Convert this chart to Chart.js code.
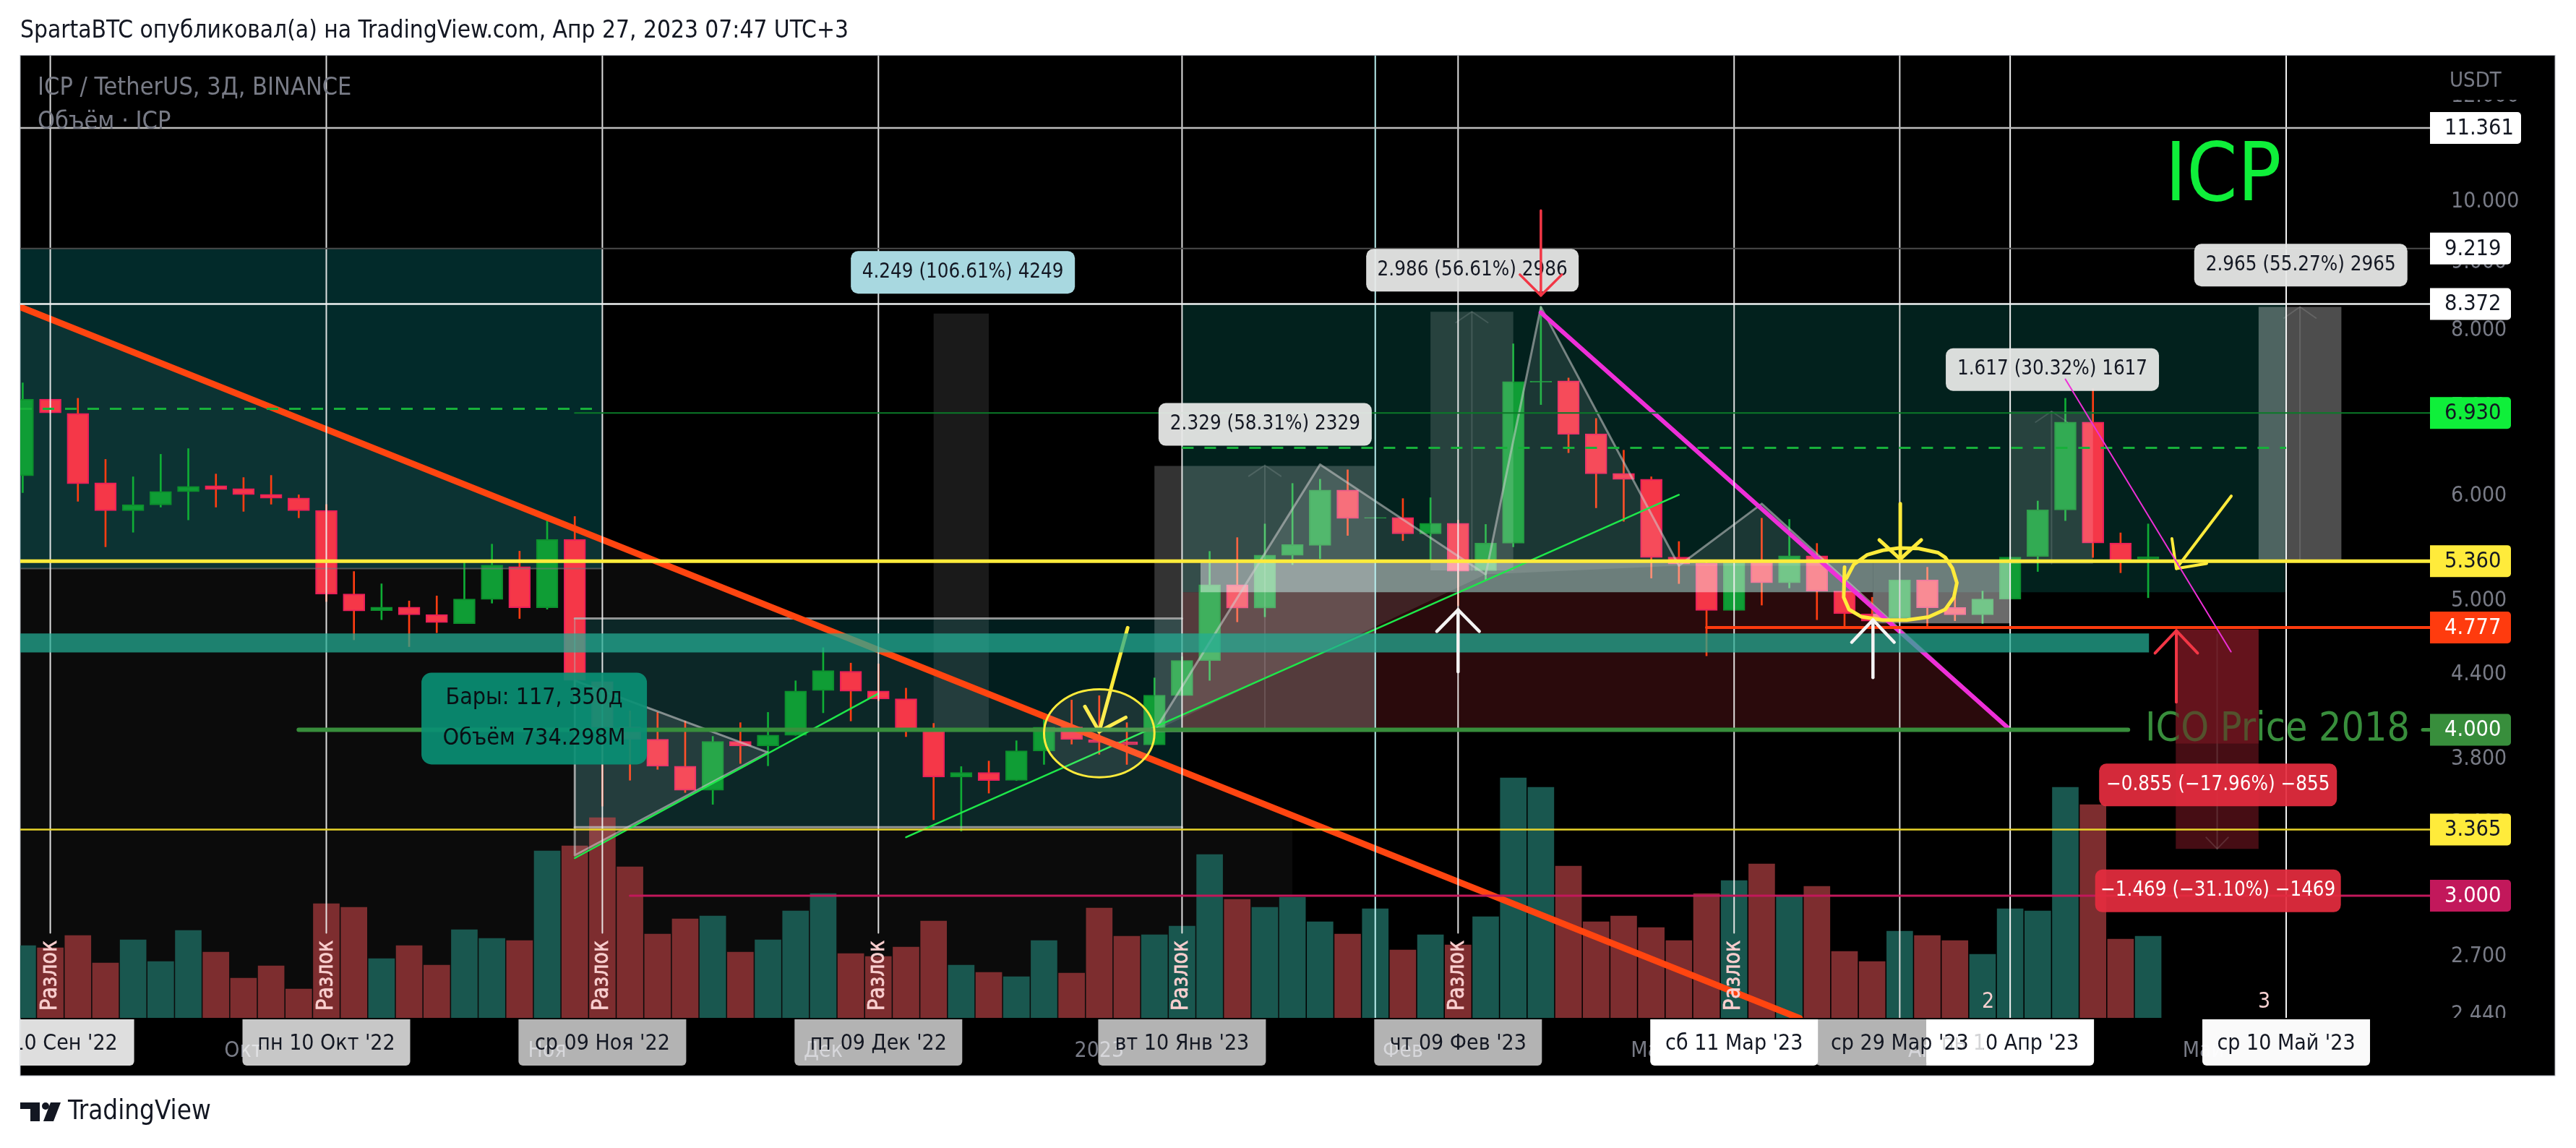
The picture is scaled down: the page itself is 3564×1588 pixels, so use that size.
<!DOCTYPE html>
<html><head><meta charset="utf-8">
<style>html,body{margin:0;padding:0;background:#fff;overflow:hidden}canvas{display:block}</style>
<script src="https://cdn.jsdelivr.net/npm/chart.js@4/dist/chart.umd.min.js"></script>
</head><body><canvas id="c" width="3564" height="1588"></canvas>
<script>
const opens=[6.214,7.098,6.925,6.140,5.850,5.908,6.045,6.110,6.079,6.018,5.980,5.853,5.063,4.918,4.949,4.886,4.809,5.016,5.309,4.944,5.566,4.349,4.020,3.935,3.756,3.602,3.920,3.889,3.962,4.282,4.428,4.279,4.221,4.001,3.685,3.715,3.665,3.855,4.020,3.932,3.918,3.897,4.245,4.509,5.145,4.941,5.414,5.508,6.064,5.774,5.781,5.619,5.724,5.271,5.529,7.311,7.327,6.684,6.240,6.178,5.397,5.338,4.921,5.350,5.162,5.410,5.088,4.892,4.858,5.189,4.946,4.884,5.019,5.404,5.857,6.822,5.531,5.379];
const highs=[7.302,7.098,7.109,6.394,6.204,6.451,6.515,6.234,6.196,6.219,6.013,5.913,5.264,5.153,5.002,5.046,5.345,5.520,5.453,5.805,5.791,4.396,4.134,4.123,4.062,3.955,4.050,4.123,4.355,4.613,4.491,4.485,4.300,4.045,3.753,3.789,3.925,4.117,4.212,4.244,4.050,4.377,4.541,5.451,5.583,5.717,6.133,6.178,6.280,5.781,5.974,5.983,5.755,5.712,7.813,8.33,7.364,6.865,6.497,6.204,5.545,5.347,5.345,5.774,5.762,5.527,5.128,5.034,5.189,5.303,5.067,5.088,5.397,5.949,7.109,7.228,5.629,5.717];
const lows=[6.036,6.931,5.946,5.495,5.635,5.886,5.757,5.886,5.843,5.916,5.778,4.997,4.676,4.842,4.621,4.734,4.809,4.983,4.852,4.931,4.286,3.504,3.665,3.735,3.588,3.515,3.773,3.758,3.962,4.120,4.062,4.207,3.953,3.422,3.356,3.584,3.663,3.767,3.902,3.834,3.767,3.897,4.245,4.358,4.824,4.866,5.327,5.383,5.604,5.774,5.554,5.365,4.962,5.183,5.495,7.032,6.469,5.879,5.743,5.204,5.155,4.548,4.921,4.966,5.116,4.842,4.789,4.789,4.858,4.789,4.833,4.809,5.019,5.264,5.750,5.394,5.253,5.030];
const closes=[7.098,6.931,6.129,5.850,5.911,6.049,6.102,6.068,6.015,5.977,5.850,5.061,4.915,4.949,4.884,4.818,5.019,5.323,4.944,5.566,4.358,4.017,3.935,3.755,3.602,3.920,3.889,3.964,4.279,4.433,4.277,4.219,4.001,3.685,3.715,3.663,3.857,4.019,3.933,3.912,3.898,4.248,4.511,5.145,4.941,5.417,5.518,6.064,5.771,5.781,5.619,5.724,5.266,5.531,7.318,7.323,6.678,6.236,6.175,5.394,5.333,4.921,5.345,5.162,5.410,5.088,4.892,4.830,5.189,4.944,4.884,5.019,5.397,5.857,6.822,5.531,5.365,5.401];
const volumes=[5.00,4.85,5.70,3.80,5.40,3.90,6.05,4.55,2.75,3.60,2.00,7.90,7.65,4.10,5.00,3.65,6.10,5.50,5.35,11.55,11.90,13.85,10.45,5.80,6.85,7.05,4.55,5.40,7.40,8.60,4.45,4.25,4.90,6.70,3.65,3.15,2.85,5.35,3.10,7.60,5.65,5.75,6.35,11.30,8.20,7.65,8.35,6.65,5.80,7.55,4.70,5.75,5.05,7.00,16.60,15.95,10.50,6.65,7.05,6.25,5.35,8.60,9.50,10.65,8.45,9.10,4.60,3.90,6.00,5.70,5.35,4.40,7.55,7.40,15.95,14.75,5.45,5.65];
const priceTicks=[12,10,9,8,7,6,5,4.8,4.4,4,3.8,3.4,3,2.7,2.44];
const timeTicks=[[8,"Окт"],[19,"Ноя"],[29,"Дек"],[39,"2023"],[50,"Фев"],[59,"Мар"],[69,"Апр"],[79,"Май"]];
const breakBars=[1,11,21,31,42,52,62];
const plainBars=[[49,"#b9eeee"],[68,"#d8d8d8"],[72,"#f0f0f0"],[82,"#f4f4f4"]];
const pricePills=[[11.361,"#ffffff","#131722",126],[9.219,"#ffffff","#131722",112],[8.372,"#ffffff","#131722",112],[6.930,"#0fef3a","#131722",112],[5.360,"#ffeb3b","#131722",112],[4.777,"#ff3b0e","#ffffff",112],[4.000,"#388e3c","#ffffff",112],[3.365,"#ffeb3b","#131722",112],[3.000,"#c2185b","#ffffff",112]];
const timePills=[[1,"сб 10 Сен '22",.87],[11,"пн 10 Окт '22",.78],[21,"ср 09 Ноя '22",.7],[31,"пт 09 Дек '22",.7],[42,"вт 10 Янв '23",.7],[52,"чт 09 Фев '23",.7],[62,"сб 11 Мар '23",1],[82,"ср 10 Май '23",.98]];
const notes=[["4.249 (106.61%) 4249",34.06,8.844,310,59,"#a8d8e0","#131722"],["2.986 (56.61%) 2986",52.52,8.877,294,59,"rgba(232,233,232,.94)","#131722"],["2.329 (58.31%) 2329",45.01,6.794,295,59,"rgba(232,233,232,.94)","#131722"],["1.617 (30.32%) 1617",73.53,7.472,295,59,"rgba(232,233,232,.94)","#131722"],["2.965 (55.27%) 2965",82.53,8.956,295,59,"rgba(232,233,232,.94)","#131722"],["\u22120.855 (\u221217.96%) \u2212855",79.53,3.635,329,59,"rgba(228,44,62,.93)","#ffffff"],["\u22121.469 (\u221231.10%) \u22121469",79.53,3.025,340,59,"rgba(228,44,62,.93)","#ffffff"]];

const F='"DejaVu Sans Condensed","DejaVu Sans",sans-serif';
const XMIN=-0.089,XMAX=87.21,YMIN=2.427,YMAX=12.88,VMAX=66.55;
const ds=[];
function poly(pts,fillCol){ds.push({type:'line',data:pts.map(([x,y])=>({x,y})),borderWidth:0,borderColor:'rgba(0,0,0,0)',backgroundColor:fillCol,fill:'shape',pointRadius:0,tension:0,yAxisID:'y',xAxisID:'x'});}
function rect(a,b,p,q,c){poly([[a,p],[b,p],[b,q],[a,q],[a,p]],c);}
function line(pts,col,w,dash){ds.push({type:'line',data:pts.map(([x,y])=>({x,y})),borderColor:col,borderWidth:w,borderDash:dash||[],borderCapStyle:dash?'butt':'round',borderJoinStyle:'round',fill:false,pointRadius:0,tension:0,yAxisID:'y',xAxisID:'x'});}
function arrowUp(i,top,base,head,col,w,dx){line([[i,base],[i,top]],col,w);line([[i-dx,head],[i,top],[i+dx,head]],col,w);}

// backdrop regions
rect(XMIN,21,9.219,5.291,'rgba(8,150,150,.28)');
rect(42,82,8.372,5.078,'rgba(8,150,130,.22)');
poly([[42,5.078],[67.03,5.078],[67.03,4.811],[67.7,4.811],[72,4.0],[42,4.0],[42,5.078]],'#2a0a0c');
rect(20,42,4.852,3.378,'rgba(8,150,150,.2)');
poly([[XMIN,8.329],[46,3.449],[46,YMIN],[XMIN,YMIN],[XMIN,8.329]],'rgba(255,255,255,.042)');
// volume
ds.push({type:'bar',data:volumes.map((v,i)=>({x:i,y:v})),yAxisID:'v',xAxisID:'x',barThickness:36,grouped:false,backgroundColor:volumes.map((v,i)=>closes[i]>=opens[i]?'#19574f':'#7d2d2f')});
// wicks and bodies
ds.push({type:'bar',data:highs.map((h,i)=>({x:i,y:[lows[i],h]})),yAxisID:'y',xAxisID:'x',barThickness:2,grouped:false,backgroundColor:highs.map((h,i)=>closes[i]>=opens[i]?'#0fad35':'#ff3d12')});
ds.push({type:'bar',data:opens.map((o,i)=>({x:i,y:[o,closes[i]]})),yAxisID:'y',xAxisID:'x',barThickness:30,grouped:false,borderWidth:2,borderSkipped:false,backgroundColor:opens.map((o,i)=>closes[i]>=o?'#0f9d35':'#f53748'),borderColor:opens.map((o,i)=>closes[i]>=o?'#0c8f2d':'#e91e5a')});
// measure boxes
rect(33,35,8.234,3.985,'rgba(255,255,255,.1)');
rect(41,49,6.323,3.994,'rgba(255,255,255,.2)');
rect(51,54,8.261,5.275,'rgba(255,255,255,.15)');
rect(72,75,6.95,5.335,'rgba(255,255,255,.15)');
rect(81,84,8.33,5.365,'rgba(255,255,255,.3)');
rect(78,81,4.723,3.254,'#460d14');
rect(78,81,4.761,3.906,'#5a111b');
const gA='rgba(255,255,255,.13)';
arrowUp(45,6.329,3.994,6.211,gA,2,.58);
arrowUp(52.5,8.261,5.275,8.106,gA,2,.58);
arrowUp(73.5,6.95,5.335,6.82,gA,2,.58);
arrowUp(82.5,8.33,5.365,8.17,gA,2,.58);
line([[79.5,4.72],[79.5,3.254]],gA,2);line([[79.1,3.319],[79.5,3.254],[79.9,3.319]],gA,2);
// light band and box
rect(42.67,67.03,5.35,5.078,'rgba(255,255,255,.42)');
rect(67.03,72,5.35,4.811,'rgba(255,255,255,.42)');
// box edges
line([[20,4.852],[42,4.852]],'rgba(180,180,180,.8)',3);
line([[20,3.378],[42,3.378]],'rgba(180,180,180,.8)',3);
line([[20,4.852],[20,3.378]],'rgba(180,180,180,.5)',2);
line([[XMIN,5.291],[21,5.291]],'rgba(120,120,120,.6)',2);
// triangle and zigzag pattern
const tri=[[20,4.357],[20,3.217],[27,3.846],[20,4.357]];
poly(tri,'rgba(255,255,255,.1)');line(tri,'rgba(205,205,205,.6)',3);
const zX=[41,3.991],zA=[47,6.337],zB=[53,5.238],zC=[55,8.329],zD=[60,5.318],zE=[63,5.92],zF=[72,4.003],zG=[65.5,5.318];
poly([zX,zA,zB,zX],'rgba(255,255,255,.1)');poly([zB,zC,zD,zB],'rgba(255,255,255,.1)');poly([zD,zE,zG,zD],'rgba(255,255,255,.1)');
line([zX,zA,zB,zC,zD,zE,zF],'rgba(205,205,205,.55)',3);
line([zF,zX],'rgba(205,205,205,.6)',3);
// trendlines
line([[20,3.202],[31,4.26]],'#1ee84a',2.5);
line([[32,3.32],[60,6.013]],'#1ee84a',2.5);
line([[XMIN,8.329],[64.38,2.425]],'#ff4510',9);
line([[55,8.249],[72,4.0]],'#ee2fd8',6);
// vertical session lines
breakBars.forEach(i=>line([[i,YMAX],[i,2.812]],'rgba(240,240,240,.92)',2));
plainBars.forEach(([i,c])=>line([[i,YMAX],[i,YMIN]],c,2));
// hand-drawn marks
const Y='#ffeb3b';
const loop=[[66.0,5.304],[65.97,5.034],[66.16,4.929],[66.6,4.868],[67.38,4.839],[68.25,4.839],[69.04,4.864],[69.65,4.929],[69.96,5.034],[70.07,5.162],[69.91,5.293],[69.65,5.394],[69.39,5.439],[68.69,5.478],[67.99,5.484],[67.38,5.461],[66.81,5.417],[66.33,5.327],[66.07,5.204]];
line(loop,Y,5);
line([[40.03,4.775],[39.0,3.988]],Y,5);line([[38.48,4.165],[39.0,3.988],[39.96,4.087]],Y,5);
line([[68.02,5.921],[68.02,5.379]],Y,5);line([[67.26,5.56],[68.02,5.379],[68.78,5.56]],Y,5);
line([[80.01,6.0],[78.02,5.291]],Y,4);line([[77.86,5.574],[78.02,5.291],[79.12,5.338]],Y,4);
// teal band over it all
rect(XMIN,77.03,4.728,4.574,'rgba(36,172,147,.74)');
// horizontal levels
line([[XMIN,11.361],[XMAX+1,11.361]],'#bdbdbd',2.5);
line([[XMIN,9.219],[XMAX+1,9.219]],'#4a4a4a',2);
line([[XMIN,8.372],[XMAX+1,8.372]],'#eef2f2',2.5);
line([[20,6.93],[XMAX+1,6.93]],'#0b7a28',2);
line([[XMIN,6.98],[20.7,6.98]],'#17b03a',3,[16,15]);
line([[42,6.524],[82,6.524]],'#17b03a',3,[16,15]);
line([[XMIN,5.36],[XMAX+1,5.36]],Y,5);
line([[61,4.777],[XMAX+1,4.777]],'#ff3b0e',4);
line([[10,4],[76.27,4]],'#388e3c',6);
line([[86.95,4],[XMAX+1,4]],'#388e3c',5);
line([[XMIN,3.365],[XMAX+1,3.365]],'#e8d52b',2.5);
line([[22,3],[XMAX+1,3]],'#c2185b',3);
const noteStage=ds.length-1;
// arrows and thin line above the note pills
const R='#f23645',W='#f4f4f4';
line([[74,7.348],[80,4.58]],'#ee2fd8',2);
line([[55,9.846],[55,8.496]],R,3.5);line([[54.24,8.81],[55,8.496],[55.76,8.81]],R,3.5);
arrowUp(52,4.926,4.424,4.745,W,4.5,.77);
arrowUp(67.03,4.84,4.379,4.656,W,4.5,.77);
arrowUp(78.02,4.751,4.197,4.569,R,4,.77);
ds.forEach((d,k)=>d.order=-k);

function rr(c,x,y,w,h,r){c.beginPath();c.roundRect(x,y,w,h,r);}
const paint={id:'paint',
 beforeDraw(ch){const c=ch.ctx;c.save();c.fillStyle='#fff';c.fillRect(0,0,3564,1588);c.fillStyle='#000';c.fillRect(28,77,3507,1411);
  c.strokeStyle='#b2b5be';c.lineWidth=1;c.strokeRect(28,76.5,3507,1411.5);c.restore();},
 afterDatasetDraw(ch,args){ if(args.index!==noteStage) return;
  const c=ch.ctx,x=ch.scales.x,y=ch.scales.y;c.save();
  const cy=(y.getPixelForValue(4.291)+y.getPixelForValue(3.684))/2,ry=(y.getPixelForValue(3.684)-y.getPixelForValue(4.291))/2;
  const rx=x.getPixelForValue(2)-x.getPixelForValue(0);
  c.beginPath();c.ellipse(x.getPixelForValue(39),cy,rx,ry,0,0,Math.PI*2);c.fillStyle='rgba(255,255,255,.1)';c.fill();c.strokeStyle=Y;c.lineWidth=3;c.stroke();
  c.textBaseline='middle';
  c.fillStyle='#f9cfcf';c.strokeStyle='#f9cfcf';c.lineWidth=.6;c.font='27px "DejaVu Sans",sans-serif';
  breakBars.forEach(i=>{c.save();c.translate(x.getPixelForValue(i),1398);c.rotate(-Math.PI/2);c.scale(1,1.15);c.textAlign='left';c.fillText('Разлок',0,0);c.strokeText('Разлок',0,0);c.restore();});
  c.textAlign='left';c.font='34px '+F;c.fillStyle='#787b86';
  c.fillText('ICP / TetherUS, 3Д, BINANCE',52,122);c.fillText('Объём · ICP',52,169);
  c.textAlign='center';c.fillStyle='#0fef3a';c.font='112px '+F;c.fillText('ICP',3076,248);
  c.fillStyle='#388e3c';c.font='55px '+F;c.fillText('ICO Price 2018',3151,1010);
  const x0=x.getPixelForValue(78),x1=x.getPixelForValue(81),y0=y.getPixelForValue(4.761),y1=y.getPixelForValue(3.906);
  c.fillStyle='rgba(110,22,30,.5)';c.fillRect(x0,y0,x1-x0,y1-y0);
  c.fillStyle='#f8d0d0';c.font='30px '+F;
  c.fillText('2',x.getPixelForValue(71.2),y.getPixelForValue(2.495));c.fillText('3',x.getPixelForValue(81.2),y.getPixelForValue(2.495));
  notes.forEach(([t,i,p,w,h,bg,fg])=>{const X=x.getPixelForValue(i),Yp=y.getPixelForValue(p);rr(c,X-w/2,Yp-h/2,w,h,10);c.fillStyle=bg;c.fill();c.fillStyle=fg;c.font='27.5px '+F;c.fillText(t,X,Yp);});
  const bx=x.getPixelForValue(18.53),by=y.getPixelForValue(4.079);
  rr(c,bx-156,by-63.5,312,127,14);c.fillStyle='rgba(10,143,116,.92)';c.fill();c.fillStyle='#0a0f14';c.font='32px '+F;
  c.fillText('Бары: 117, 350д',bx,by-28);c.fillText('Объём 734.298M',bx,by+28);
  c.restore();},
 afterDraw(ch){const c=ch.ctx,x=ch.scales.x,y=ch.scales.y;c.save();
  c.textBaseline='middle';
  c.fillStyle='#000';c.fillRect(3362,78,172,60);c.fillRect(3362,1408,172,79);
  c.fillStyle='#787b86';c.font='29px '+F;c.textAlign='left';c.fillText('USDT',3389,112);
  pricePills.forEach(([p,bg,fg,w])=>{const Yp=y.getPixelForValue(p);rr(c,3362,Yp-22,w,44,[0,5,5,0]);c.fillStyle=bg;c.fill();c.fillStyle=fg;c.font='30.5px '+F;c.fillText(p.toFixed(3),3382,Yp+1);});
  c.save();c.beginPath();c.rect(28,1408,3334,79);c.clip();c.textAlign='center';c.font='30px '+F;
  const pill=(i,a)=>{rr(c,x.getPixelForValue(i)-116,1410,232,64,[0,0,6,6]);c.fillStyle='rgba(255,255,255,'+a+')';c.fill();};
  const label=(i,t)=>{c.fillStyle='#131722';c.fillText(t,x.getPixelForValue(i),1444);};
  pill(68,.7);
  timePills.forEach(([i,t,a])=>{pill(i,a);label(i,t);});
  pill(72,1);label(72,"пн 10 Апр '23");
  const ov0=x.getPixelForValue(72)-116,ov1=x.getPixelForValue(68)+116;
  c.fillStyle='rgba(255,255,255,.82)';c.fillRect(ov0,1410,ov1-ov0,64);
  label(68,"ср 29 Мар '23");
  c.restore();
  c.fillStyle='#131722';c.textAlign='left';c.font='33.2px '+F;
  c.fillText('SpartaBTC опубликовал(а) на TradingView.com, Апр 27, 2023 07:47 UTC+3',28,43);
  c.font='36.5px '+F;c.fillText('TradingView',94,1539);
  c.fillRect(28,1525,27,9);c.fillRect(42,1534,13,17);
  c.beginPath();c.arc(63,1530,5,0,Math.PI*2);c.fill();
  c.beginPath();c.moveTo(70,1525);c.lineTo(84,1525);c.lineTo(74,1551);c.lineTo(60,1551);c.closePath();c.fill();
  c.restore();}
};
new Chart(document.getElementById('c'),{type:'bar',data:{datasets:ds},plugins:[paint],options:{
 responsive:false,animation:false,devicePixelRatio:1,
 layout:{padding:{left:28,top:77,right:29,bottom:100}},
 plugins:{legend:{display:false},tooltip:{enabled:false},title:{display:false}},
 scales:{
  x:{type:'linear',offset:false,bounds:'data',min:XMIN,max:XMAX,position:'bottom',grid:{display:false},border:{display:false},
    afterFit(s){s.height=80;},
    afterBuildTicks(s){s.ticks=timeTicks.map(t=>({value:t[0]}));},
    ticks:{autoSkip:false,maxRotation:0,padding:20,color:'#787b86',font:{family:F,size:30},
      callback(v){const t=timeTicks.find(k=>k[0]===v);return t?t[1]:'';}}},
  y:{type:'logarithmic',position:'right',bounds:'data',min:YMIN,max:YMAX,grid:{display:false},border:{display:false},
    afterFit(s){s.width=173;},
    afterBuildTicks(s){s.ticks=priceTicks.map(v=>({value:v}));},
    ticks:{autoSkip:false,padding:21,color:'#787b86',font:{family:F,size:30},callback(v){return Number(v).toFixed(3);}}},
  v:{type:'linear',display:false,min:0,max:VMAX,bounds:'data',grid:{display:false}}
 }}});
</script></body></html>
